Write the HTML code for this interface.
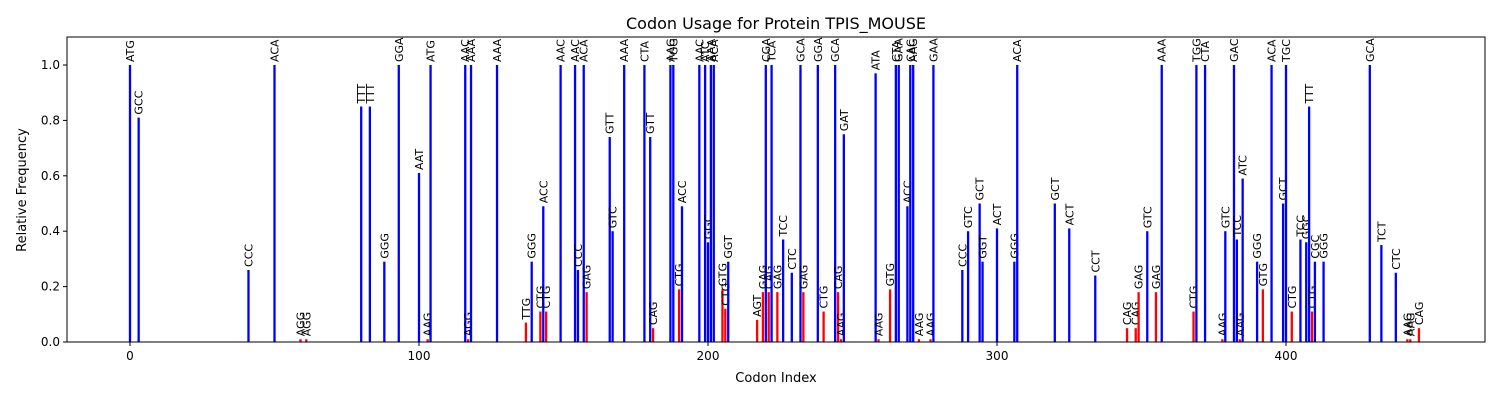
<!DOCTYPE html>
<html><head><meta charset="utf-8">
<style>
html,body{margin:0;padding:0;background:#fff;}
svg{display:block;font-family:"DejaVu Sans","Liberation Sans",sans-serif;}
</style></head>
<body>
<svg id="chart" width="1500" height="400" viewBox="0 0 1500 400" xmlns="http://www.w3.org/2000/svg">
<rect x="0" y="0" width="1500" height="400" fill="#fff"/>
<text x="776" y="29" font-size="16" text-anchor="middle">Codon Usage for Protein TPIS_MOUSE</text>
<g id="bars"></g>
<g id="axes"></g>
<text x="776" y="382" font-size="13" text-anchor="middle">Codon Index</text>
<text x="0" y="0" font-size="13" text-anchor="middle" transform="translate(26,190) rotate(-90)">Relative Frequency</text>
</svg>
<script>
const codonIndex = [0,3,41,50,59,61,80,83,88,93,100,103,104,116,117,118,127,137,139,142,143,144,149,154,155,157,158,166,167,171,178,180,181,187,188,190,191,197,199,200,201,202,205,206,207,217,219,220,221,222,224,226,229,232,233,238,240,244,245,246,247,258,259,263,265,266,269,270,271,273,277,278,288,290,294,295,300,306,307,320,325,334,345,348,349,352,355,357,368,369,372,378,379,382,383,384,385,390,392,395,399,400,402,405,407,408,409,410,413,429,433,438,442,443,446];
const codonLabels = ["ATG","GCC","CCC","ACA","AGG","AGG","TTT","TTT","GGG","GGA","AAT","AAG","ATG","AAC","AGG","AAA","AAA","TTG","GGG","CTG","ACC","CTG","AAC","AAC","CCC","ACA","GAG","GTT","GTC","AAA","CTA","GTT","CAG","AAG","TGG","CTG","ACC","AAC","ATC","GGC","AAA","ACA","GTG","CTG","GGT","AGT","GAG","CGA","CAG","TCA","GAG","TCC","CTC","GCA","GAG","GGA","CTG","GCA","CAG","AAG","GAT","ATA","AAG","GTG","CTA","GAA","ACC","CAC","AAG","AAG","AAG","GAA","CCC","GTC","GCT","GGT","ACT","GGG","ACA","GCT","ACT","CCT","CAG","CAG","GAG","GTC","GAG","AAA","CTG","TGG","CTA","AAG","GTC","GAC","TCC","AAG","ATC","GGG","GTG","ACA","GCT","TGC","CTG","TCC","GGC","TTT","CTG","CGC","GGG","GCA","TCT","CTC","AAG","AAG","CAG"];
const frequencies = [1.0,0.81,0.26,1.0,0.01,0.01,0.85,0.85,0.29,1.0,0.61,0.01,1.0,1.0,0.01,1.0,1.0,0.07,0.29,0.11,0.49,0.11,1.0,1.0,0.26,1.0,0.18,0.74,0.40,1.0,1.0,0.74,0.05,1.0,1.0,0.19,0.49,1.0,1.0,0.36,1.0,1.0,0.19,0.12,0.29,0.08,0.18,1.0,0.18,1.0,0.18,0.37,0.25,1.0,0.18,1.0,0.11,1.0,0.18,0.01,0.75,0.97,0.01,0.19,1.0,1.0,0.49,1.0,1.0,0.01,0.01,1.0,0.26,0.40,0.50,0.29,0.41,0.29,1.0,0.50,0.41,0.24,0.05,0.05,0.18,0.40,0.18,1.0,0.11,1.0,1.0,0.01,0.40,1.0,0.37,0.01,0.59,0.29,0.19,1.0,0.50,1.0,0.11,0.37,0.36,0.85,0.11,0.29,0.29,1.0,0.35,0.25,0.01,0.01,0.05];
const xTicks = [0,100,200,300,400];
const yTicks = [0.0,0.2,0.4,0.6,0.8,1.0];

const NS = "http://www.w3.org/2000/svg";
const L = 67, R = 1485, T = 37, B = 342;
function xs(v){ return 130 + v * 2.89; }
function ys(v){ return B - v * 277; }
function mk(tag, attrs){ const e = document.createElementNS(NS, tag); for (const k in attrs) e.setAttribute(k, attrs[k]); return e; }

const bars = document.getElementById('bars');
codonIndex.forEach((ci, i) => {
  const f = frequencies[i];
  const x = xs(ci), y = ys(f);
  const r = mk('rect', {x: x - 1.15, y: y, width: 2.3, height: B - y, fill: f < 0.2 ? '#ff0000' : '#0000ff'});
  
  
  bars.appendChild(r);
  const t = mk('text', {x: 0, y: 0, 'font-size': 11, 'text-anchor': 'start', transform: 'translate(' + (x + 4) + ',' + (y - 3) + ') rotate(-90)'});
  t.textContent = codonLabels[i];
  
  
  bars.appendChild(t);
});

const axes = document.getElementById('axes');
const frame = mk('rect', {x: L, y: T, width: R - L, height: B - T, fill: 'none', stroke: '#000', 'stroke-width': 1});


axes.appendChild(frame);
xTicks.forEach(v => {
  const x = xs(v);
  axes.appendChild(mk('line', {x1: x, y1: B, x2: x, y2: B + 4, stroke: '#000'}));
  const t = mk('text', {x: x, y: B + 18, 'font-size': 12, 'text-anchor': 'middle'});
  t.textContent = v;
  
  
  axes.appendChild(t);
});
yTicks.forEach(v => {
  const y = ys(v);
  axes.appendChild(mk('line', {x1: L - 4, y1: y, x2: L, y2: y, stroke: '#000'}));
  const t = mk('text', {x: L - 7, y: y + 4, 'font-size': 12, 'text-anchor': 'end'});
  t.textContent = v.toFixed(1);
  
  
  axes.appendChild(t);
});
</script>
</body></html>
